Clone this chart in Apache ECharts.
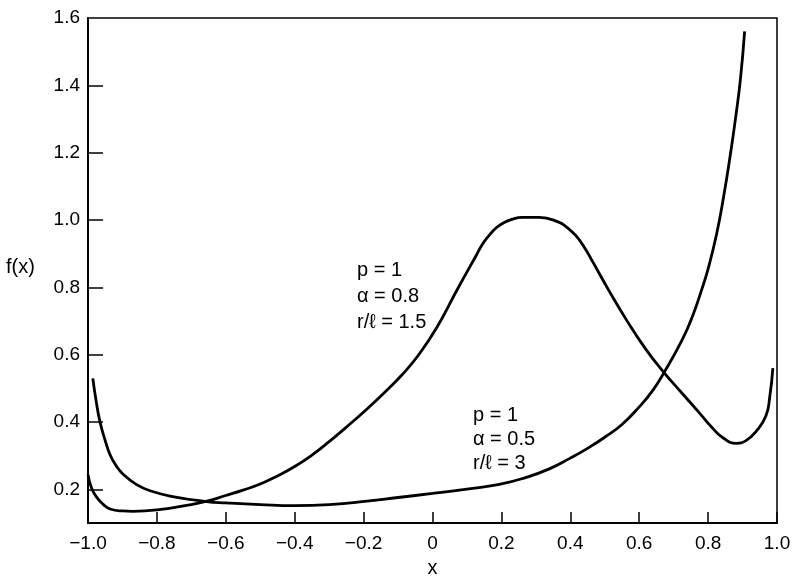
<!DOCTYPE html>
<html>
<head>
<meta charset="utf-8">
<style>
  html, body { margin: 0; padding: 0; background: #fff; }
  #chart { width: 794px; height: 583px; }
</style>
<script src="https://cdn.jsdelivr.net/npm/echarts@6/dist/echarts.min.js"></script>
</head>
<body>
<div id="chart"></div>
<script>
// p=1, alpha=0.5, r/l=3  (flat curve rising steeply near x=0.9)
var curveAx = [-0.986, -0.976, -0.965, -0.95, -0.936, -0.918, -0.898, -0.86, -0.82, -0.75, -0.656, -0.6, -0.5, -0.4, -0.3, -0.19, -0.1, 0, 0.1, 0.194, 0.27, 0.339, 0.4, 0.45, 0.5, 0.55, 0.6, 0.64, 0.672, 0.725, 0.755, 0.78, 0.8, 0.825, 0.846, 0.864, 0.88, 0.894, 0.906];
var curveAy = [0.53, 0.46, 0.40, 0.345, 0.303, 0.27, 0.245, 0.215, 0.196, 0.178, 0.164, 0.16, 0.155, 0.152, 0.155, 0.165, 0.176, 0.188, 0.201, 0.215, 0.235, 0.261, 0.293, 0.322, 0.355, 0.393, 0.445, 0.495, 0.547, 0.645, 0.715, 0.789, 0.855, 0.96, 1.075, 1.19, 1.305, 1.42, 1.56];

// p=1, alpha=0.8, r/l=1.5  (bell shaped curve)
var curveBx = [-1.0, -0.99, -0.975, -0.955, -0.936, -0.9, -0.87, -0.8, -0.7, -0.655, -0.6, -0.55, -0.5, -0.45, -0.4, -0.35, -0.3, -0.25, -0.19, -0.14, -0.087, -0.04, 0.012, 0.07, 0.128, 0.145, 0.165, 0.185, 0.203, 0.23, 0.261, 0.31, 0.368, 0.39, 0.415, 0.44, 0.464, 0.513, 0.562, 0.62, 0.672, 0.725, 0.774, 0.812, 0.845, 0.881, 0.91, 0.939, 0.968, 0.979, 0.988];
var curveBy = [0.244, 0.205, 0.177, 0.155, 0.142, 0.136, 0.135, 0.139, 0.155, 0.165, 0.182, 0.198, 0.216, 0.24, 0.268, 0.302, 0.342, 0.385, 0.439, 0.487, 0.542, 0.60, 0.68, 0.79, 0.897, 0.928, 0.955, 0.977, 0.99, 1.002, 1.008, 1.008, 0.993, 0.978, 0.955, 0.92, 0.878, 0.789, 0.705, 0.615, 0.547, 0.485, 0.428, 0.383, 0.352, 0.337, 0.345, 0.372, 0.419, 0.475, 0.56];

var yTickValues = [0.2, 0.4, 0.6, 0.8, 1.0, 1.2, 1.4, 1.6];

var font = '"Liberation Sans", "DejaVu Sans", sans-serif';

function pairs(xs, ys) {
    var out = [];
    for (var i = 0; i < xs.length; i++) {
        out.push([xs[i], ys[i]]);
    }
    return out;
}

var chart = echarts.init(document.getElementById('chart'));

var option = {
    backgroundColor: '#fff',
    animation: false,
    grid: {
        left: 88,
        right: 17,
        top: 18,
        bottom: 47,
        show: true,
        borderColor: '#000',
        borderWidth: 1.5
    },
    xAxis: {
        type: 'value',
        min: -1,
        max: 1,
        interval: 0.2,
        name: 'x',
        nameLocation: 'middle',
        nameGap: 29,
        nameTextStyle: { color: '#000', fontSize: 20, fontFamily: font },
        splitLine: { show: false },
        axisLine: { show: true, onZero: false, lineStyle: { color: '#000', width: 2 } },
        axisTick: { show: true, inside: true, length: 11, lineStyle: { color: '#000', width: 1.5 } },
        axisLabel: {
            color: '#000',
            fontSize: 19,
            fontFamily: font,
            margin: 11,
            formatter: function (v) {
                if (Math.abs(v) < 1e-9) return '0';
                return v.toFixed(1).replace('-', '\u2212');
            }
        }
    },
    yAxis: {
        type: 'value',
        min: 0.1,
        max: 1.6,
        splitLine: { show: false },
        axisLine: { show: true, onZero: false, lineStyle: { color: '#000', width: 2 } },
        axisTick: {
            show: true, inside: true, length: 15,
            customValues: yTickValues.slice(0, 7),
            lineStyle: { color: '#000', width: 1.5 }
        },
        axisLabel: {
            color: '#000',
            fontSize: 19,
            fontFamily: font,
            margin: 8,
            customValues: yTickValues,
            formatter: function (v) { return v.toFixed(1); }
        }
    },
    graphic: [
        {
            type: 'text', left: 6, top: 257,
            style: { text: 'f(x)', font: '20px ' + font, fill: '#000' }
        },
        {
            type: 'text', left: 357, top: 257,
            style: { text: 'p = 1\n\u03b1 = 0.8\nr/\u2113 = 1.5', font: '20px ' + font, lineHeight: 26, fill: '#000' }
        },
        {
            type: 'text', left: 473, top: 403,
            style: { text: 'p = 1\n\u03b1 = 0.5\nr/\u2113 = 3', font: '20px ' + font, lineHeight: 24, fill: '#000' }
        }
    ],
    series: [
        {
            name: 'p=1, alpha=0.5, r/l=3',
            type: 'line',
            data: pairs(curveAx, curveAy),
            smooth: 0.5,
            showSymbol: false,
            symbol: 'none',
            lineStyle: { color: '#000', width: 2.8 }
        },
        {
            name: 'p=1, alpha=0.8, r/l=1.5',
            type: 'line',
            data: pairs(curveBx, curveBy),
            smooth: 0.5,
            showSymbol: false,
            symbol: 'none',
            lineStyle: { color: '#000', width: 2.8 }
        }
    ]
};

chart.setOption(option);
</script>
</body>
</html>
